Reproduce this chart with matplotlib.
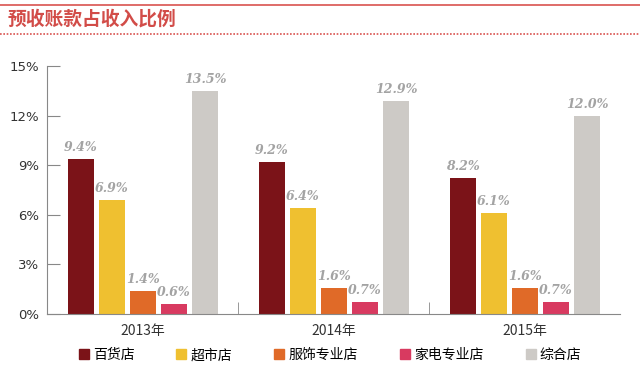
import numpy as np
import matplotlib.pyplot as plt
from matplotlib.lines import Line2D

plt.rcParams['font.family'] = ['Noto Sans CJK SC', 'DejaVu Sans']

# data
years = ['2013年', '2014年', '2015年']
stores = ['百货店', '超市店', '服饰专业店', '家电专业店', '综合店']
dept = [9.4, 9.2, 8.2]
supermarket = [6.9, 6.4, 6.1]
apparel = [1.4, 1.6, 1.6]
appliance = [0.6, 0.7, 0.7]
general = [13.5, 12.9, 12.0]
yticks = [0, 3, 6, 9, 12, 15]

series = [dept, supermarket, apparel, appliance, general]
colors = ['#7b1318', '#efc030', '#e06a28', '#d83a60', '#cdcac6']

fig = plt.figure(figsize=(6.4, 3.7), dpi=100)
ax = fig.add_axes([0.0742, 0.1514, 0.8953, 0.6702])

x = np.arange(len(years))
step = 0.163
width = 0.135
for i, (vals, c) in enumerate(zip(series, colors)):
    xs = x + (i - 2) * step
    ax.bar(xs, vals, width, color=c, label=stores[i], zorder=2)
    for xi, v in zip(xs, vals):
        ax.text(xi, v + 0.3, f'{v:.1f}%', ha='center', va='bottom',
                family='DejaVu Serif', style='italic', fontweight='bold',
                fontsize=9, color='#a3a3a3')

ax.set_xlim(-0.5, 2.5)
ax.set_ylim(0, 15)
ax.set_yticks(yticks)
ax.set_yticklabels([f'{t}%' for t in yticks], family='DejaVu Sans', fontsize=9.5, color='#333333')
ax.set_xticks(x)
ax.set_xticklabels(years, fontsize=10, color='#333333')
ax.set_xticks([-0.5, 0.5, 1.5], minor=True)
ax.tick_params(axis='x', which='major', length=0, pad=7)
ax.tick_params(axis='x', which='minor', direction='in', length=9, color='#888888')
ax.tick_params(axis='y', direction='in', length=9, color='#888888', pad=6)
for s in ['top', 'right']:
    ax.spines[s].set_visible(False)
for s in ['left', 'bottom']:
    ax.spines[s].set_color('#888888')

# legend
handles = [Line2D([], [], marker='s', linestyle='', markersize=7.5, color=c) for c in colors]
fig.legend(handles, stores, loc='center', bbox_to_anchor=(0.514, 0.04), ncol=5,
           frameon=False, fontsize=10, handletextpad=0.15, columnspacing=2.9,
           handlelength=1.0, borderpad=0)

# title and decorative lines
fig.add_artist(Line2D([0.0, 1.0], [0.986, 0.986], color='#d9534f', lw=1.2))
fig.add_artist(Line2D([0.0, 1.0], [0.907, 0.907], color='#d9534f', lw=1.2, linestyle=(0, (1, 1))))
fig.text(0.012, 0.948, '预收账款占收入比例', fontsize=13.5, fontweight='bold',
         color='#d24c48', ha='left', va='center')

fig.savefig('out.png', dpi=100)
